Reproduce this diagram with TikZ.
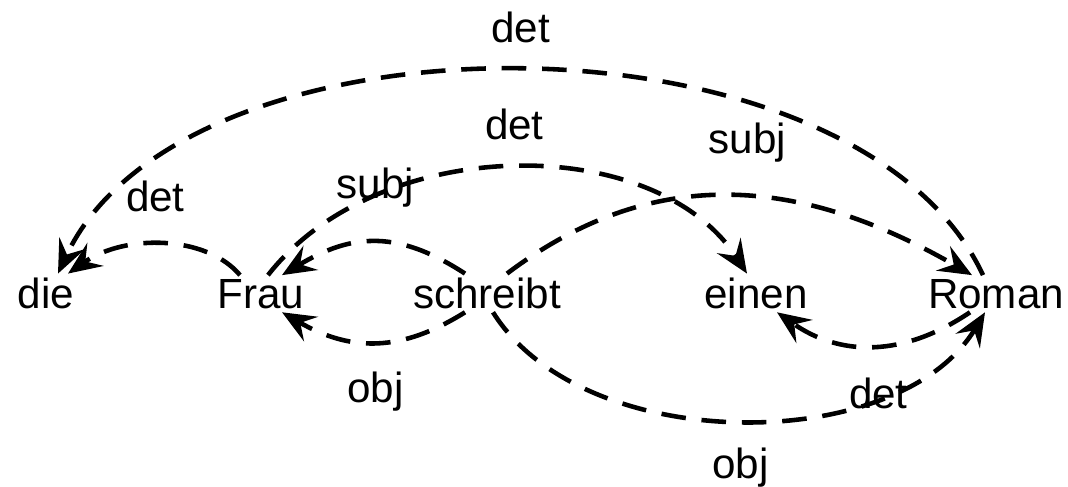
\documentclass[tikz,border=0pt]{standalone}
\usepackage{fontspec}
\setmainfont{Liberation Sans}
\usetikzlibrary{arrows.meta}

\begin{document}
\begin{tikzpicture}[
    word/.style={anchor=base,inner sep=2pt,font=\fontsize{24}{28}\selectfont},
    lbl/.style={inner sep=0pt,font=\fontsize{24}{28}\selectfont},
    dep/.style={dash pattern=on 14pt off 9pt,line width=2.6pt,-{Stealth[length=19pt,width=16pt,inset=7pt]}}]
\useasboundingbox (0,0) rectangle (21.36,9.72);
\node [word] (die) at (0.92,3.56) {die};
\node [word] (frau) at (5.22,3.56) {Frau};
\node [word] (schreibt) at (9.74,3.56) {schreibt};
\node [word] (einen) at (15.12,3.56) {einen};
\node [word] (roman) at (19.92,3.56) {Roman};
\draw [dep] ([xshift=-0.26cm]roman.north) .. controls +(115:6.0) and +(65:6.0) .. ([xshift=0.24cm]die.north)
    node [lbl,pos=0.5,above=0.5cm] {det};
\draw [dep] ([xshift=-0.42cm]frau.north) .. controls +(130:1.04) and +(35:1.4) .. ([xshift=0.44cm]die.north)
    node [lbl,pos=0.54,above=0.6cm] {det};
\draw [dep] ([xshift=0.14cm]frau.north) .. controls +(52:3.6) and +(123:3.4) .. ([xshift=-0.18cm]einen.north)
    node [lbl,pos=0.5,above=0.5cm] {det};
\draw [dep] ([xshift=-0.44cm]schreibt.north) .. controls +(147:1.58) and +(31:1.66) .. ([xshift=0.42cm]frau.north)
    node [lbl,pos=0.5,above=0.66cm] {subj};
\draw [dep] ([xshift=-0.44cm]schreibt.south) .. controls +(212:1.5) and +(330:1.6) .. ([xshift=0.42cm]frau.south)
    node [lbl,pos=0.5,below=0.55cm] {obj};
\draw [dep] ([xshift=0.4cm]schreibt.north) .. controls +(37:3.5) and +(150:4.16) .. ([xshift=-0.48cm]roman.north)
    node [lbl,pos=0.55,above=0.64cm] {subj};
\draw [dep] ([xshift=0.12cm]schreibt.south) .. controls +(302:3.4) and +(239:3.36) .. ([xshift=-0.22cm]roman.south)
    node [lbl,pos=0.5,below=0.5cm] {obj};
\draw [dep] ([xshift=-0.52cm]roman.south) .. controls +(214:1.6) and +(325:1.56) .. ([xshift=0.42cm]einen.south)
    node [lbl,pos=0.47,below=0.6cm] {det};
\end{tikzpicture}
\end{document}
